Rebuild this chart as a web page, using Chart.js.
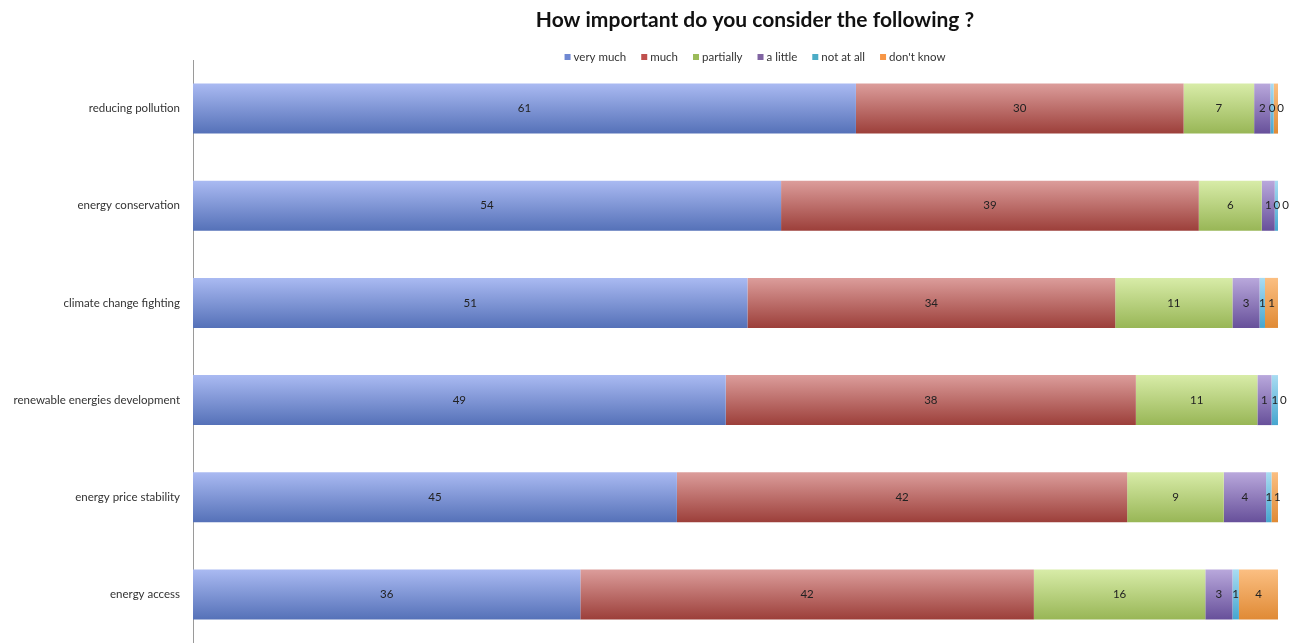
<!DOCTYPE html>
<html>
<head>
<meta charset="utf-8">
<script src="https://cdn.jsdelivr.net/npm/chart.js@4.4.1/dist/chart.umd.min.js"></script>
<style>
    html, body { margin: 0; padding: 0; background: #fff; overflow: hidden; }
    #wrap { width: 1296px; height: 643px; position: relative; }
</style>
</head>
<body>
<div id="wrap"><canvas id="barChart"></canvas></div>
<script>
// survey answers, percent of respondents per topic
const topics = [
    'reducing pollution',
    'energy conservation',
    'climate change fighting',
    'renewable energies development',
    'energy price stability',
    'energy access'
];
const veryMuch  = [61.1, 54.2, 51.1, 49.1, 44.6, 35.7];
const much      = [30.2, 38.5, 33.9, 37.8, 41.5, 41.8];
const partially = [6.5, 5.8, 10.8, 11.2, 8.9, 15.8];
const aLittle   = [1.5, 1.2, 2.5, 1.3, 3.9, 2.5];
const notAtAll  = [0.3, 0.3, 0.5, 0.6, 0.5, 0.6];
const dontKnow  = [0.4, 0.0, 1.2, 0.0, 0.6, 3.6];

const chartTitle = 'How important do you consider the following ?';
const fontFamily = 'Lato, "Open Sans", sans-serif';
const barPct = 0.515;
const headerCenterX = 755;

// top / bottom shades of each series, plus the flat legend colour
const series = [
    { label: 'very much',  data: veryMuch,  flat: '#6f88d2', top: '#aabaf2', bottom: '#5571b8' },
    { label: 'much',       data: much,      flat: '#c0504d', top: '#dc9d9b', bottom: '#9c3f3a' },
    { label: 'partially',  data: partially, flat: '#9bbb59', top: '#d8eca8', bottom: '#98b656' },
    { label: 'a little',   data: aLittle,   flat: '#8064a2', top: '#b9a8dc', bottom: '#67509a' },
    { label: 'not at all', data: notAtAll,  flat: '#4bacc6', top: '#a9dcf2', bottom: '#46a6cf' },
    { label: "don't know", data: dontKnow,  flat: '#f79646', top: '#fbbf82', bottom: '#e08a35' }
];

function shade(s) {
    return function (ctx) {
        const chart = ctx.chart;
        if (ctx.type !== 'data' || !chart.chartArea) return s.flat;
        const y = chart.scales.y;
        const c = y.getPixelForValue(ctx.dataIndex);
        const half = y.height / topics.length * barPct / 2;
        const g = chart.ctx.createLinearGradient(0, c - half, 0, c + half);
        g.addColorStop(0, s.top);
        g.addColorStop(1, s.bottom);
        return g;
    };
}

// title and a one-line legend above the plot
const header = {
    id: 'header',
    afterDraw(chart) {
        const ctx = chart.ctx;
        ctx.save();
        ctx.textBaseline = 'middle';
        ctx.fillStyle = '#111';
        ctx.textAlign = 'center';
        ctx.font = 'bold 21px ' + fontFamily;
        ctx.fillText(chartTitle, headerCenterX, 20);

        ctx.font = '11.5px ' + fontFamily;
        ctx.textAlign = 'left';
        const box = 6, gap = 3, spacing = 15;
        const widths = series.map(function (s) {
            return box + gap + ctx.measureText(s.label).width;
        });
        const total = widths.reduce(function (a, b) { return a + b; }, 0) + spacing * (series.length - 1);
        let x = headerCenterX - total / 2;
        const y = 57;
        series.forEach(function (s, i) {
            ctx.fillStyle = s.flat;
            ctx.fillRect(x, y - box / 2, box, box);
            ctx.fillStyle = '#333';
            ctx.fillText(s.label, x + box + gap, y);
            x += widths[i] + spacing;
        });
        ctx.restore();
    }
};

// rounded value written in the middle of each segment, nudged right when crowded
const segmentLabels = {
    id: 'segmentLabels',
    afterDatasetsDraw(chart) {
        const ctx = chart.ctx;
        ctx.save();
        ctx.font = '11.5px ' + fontFamily;
        ctx.fillStyle = '#222';
        ctx.textAlign = 'center';
        ctx.textBaseline = 'middle';
        topics.forEach(function (t, i) {
            let prevRight = -Infinity;
            chart.data.datasets.forEach(function (ds, d) {
                const bar = chart.getDatasetMeta(d).data[i];
                const text = String(Math.round(ds.data[i]));
                const w = ctx.measureText(text).width;
                let cx = (bar.x + bar.base) / 2;
                if (cx - w / 2 < prevRight + 2) cx = prevRight + 2 + w / 2;
                prevRight = cx + w / 2;
                ctx.fillText(text, cx, bar.y);
            });
        });
        ctx.restore();
    }
};

new Chart(document.getElementById('barChart'), {
    type: 'bar',
    data: {
        labels: topics,
        datasets: series.map(function (s) {
            return {
                label: s.label,
                data: s.data,
                backgroundColor: shade(s),
                borderWidth: 0,
                categoryPercentage: 1,
                barPercentage: barPct,
                clip: false
            };
        })
    },
    options: {
        indexAxis: 'y',
        responsive: true,
        maintainAspectRatio: false,
        animation: false,
        layout: {
            padding: { top: 60, right: 18, bottom: -2, left: 0 }
        },
        scales: {
            x: {
                stacked: true,
                min: 0,
                max: 100,
                display: false
            },
            y: {
                stacked: true,
                grid: { display: false, drawTicks: false },
                border: { display: true, color: '#9a9a9a', width: 1 },
                ticks: {
                    padding: 13,
                    color: '#333',
                    font: { family: fontFamily, size: 11.5 }
                },
                afterFit: function (scale) {
                    scale.width = 193;
                    scale.paddingTop = 0;
                    scale.paddingBottom = 0;
                }
            }
        },
        plugins: {
            title: { display: false },
            legend: { display: false },
            tooltip: { enabled: false }
        }
    },
    plugins: [header, segmentLabels]
});
</script>
</body>
</html>
